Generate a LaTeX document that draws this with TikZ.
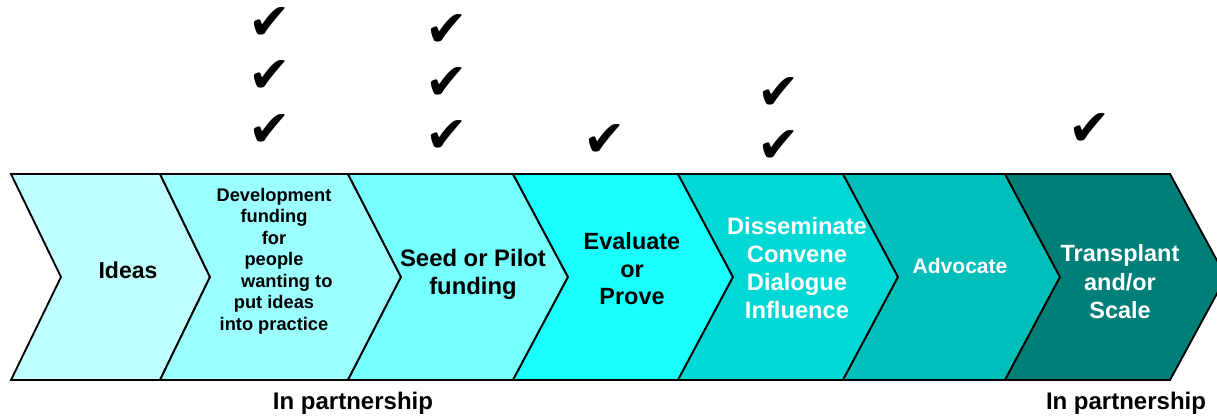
\documentclass[tikz,border=0pt]{standalone}
\usepackage{fontspec}
\setmainfont{Liberation Sans}
\newfontfamily\tickfont{DejaVu Sans}
\definecolor{cIdeas}{HTML}{C0FFFF}
\definecolor{cDev}{HTML}{9CFFFF}
\definecolor{cSeed}{HTML}{75FFFF}
\definecolor{cEval}{HTML}{19FFFF}
\definecolor{cDiss}{HTML}{00D8D6}
\definecolor{cAdv}{HTML}{00BEBA}
\definecolor{cScale}{HTML}{007F78}
\tikzset{
  stage/.style={draw=black, line width=1.4pt, line join=miter},
  lbl/.style={font=\bfseries, align=center, inner sep=0pt},
  tick/.style={font=\tickfont\fontsize{38}{38}\selectfont, inner sep=0pt},
}
% left x, right x, notch depth, tip depth, fill
\newcommand{\chevron}[5]{%
  \filldraw[stage, fill=#5] (#1,174) -- (#2,174) -- ({#2+#4},277) -- (#2,380)
    -- (#1,380) -- ({#1+#3},277) -- cycle;}
\begin{document}
\begin{tikzpicture}[x=0.75pt,y=-0.75pt]
\useasboundingbox (0,0) rectangle (1217,415);
\clip (0,0) rectangle (1217,415);
\chevron{11}{160}{50}{50}{cIdeas}
\chevron{160}{348}{50}{53}{cDev}
\chevron{348}{513}{53}{55}{cSeed}
\chevron{513}{678}{55}{55}{cEval}
\chevron{678}{843}{55}{55}{cDiss}
\chevron{843}{1005}{55}{55}{cAdv}
\chevron{1005}{1170}{55}{56}{cScale}

\node[lbl, font=\bfseries\fontsize{17.3}{20}\selectfont] (n0) at (128,270) {Ideas};
\node[lbl, font=\bfseries\fontsize{13.7}{16.1}\selectfont] (n1) at (274,261)
  {Development\\funding\\for\\people\\\hspace*{1.4em}wanting to\\put ideas\\into practice};
\node[lbl, font=\bfseries\fontsize{17.9}{21}\selectfont] (n2) at (473,274) {Seed or Pilot\\funding};
\node[lbl, font=\bfseries\fontsize{17.6}{20.6}\selectfont] (n3) at (632,269) {Evaluate\\or\\Prove};
\node[lbl, text=white, font=\bfseries\fontsize{17.8}{20.8}\selectfont] (n4) at (797,268)
  {Disseminate\\Convene\\Dialogue\\Influence};
\node[lbl, text=white, font=\bfseries\fontsize{15.8}{19}\selectfont] (n5) at (960,266) {Advocate};
\node[lbl, text=white, font=\bfseries\fontsize{17.6}{21.4}\selectfont] (n6) at (1120,282) {Transplant\\and/or\\Scale};

\node[lbl, font=\bfseries\fontsize{18}{20}\selectfont] (p0) at (353,403) {In partnership};
\node[lbl, font=\bfseries\fontsize{18}{20}\selectfont] (p1) at (1126,403) {In partnership};

\node[tick] (t0) at (270,24) {✔};
\node[tick] (t1) at (270,77) {✔};
\node[tick] (t2) at (270,131) {✔};
\node[tick] (t3) at (447,31) {✔};
\node[tick] (t4) at (447,84) {✔};
\node[tick] (t5) at (447,137) {✔};
\node[tick] (t6) at (605,141) {✔};
\node[tick] (t7) at (779,94) {✔};
\node[tick] (t8) at (779,147) {✔};
\node[tick] (t9) at (1090,130) {✔};
\end{tikzpicture}
\end{document}
